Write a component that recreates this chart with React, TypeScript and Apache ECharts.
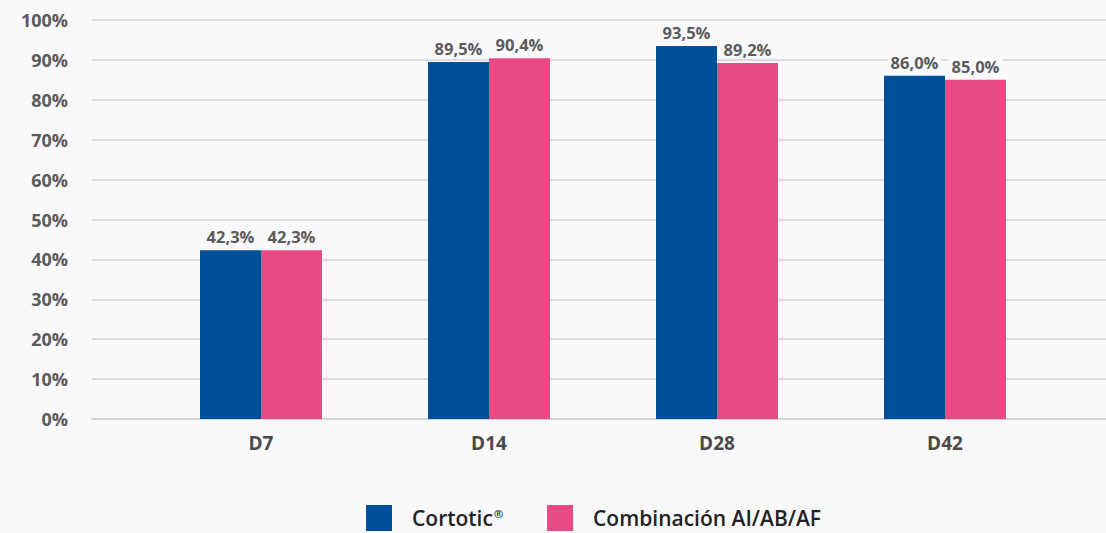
import React, { useEffect, useRef } from "react";
import * as echarts from "echarts";

const categories = ["D7", "D14", "D28", "D42"];
const cortotic = [42.3, 89.5, 93.5, 86.0];
const combinacion = [42.3, 90.4, 89.2, 85.0];
const seriesNames = ["Cortotic®", "Combinación AI/AB/AF"];
const yTicks = [0, 10, 20, 30, 40, 50, 60, 70, 80, 90, 100];

const BG = "#f9f9fb";
const FONT = "'Open Sans', 'DejaVu Sans', sans-serif";

export default function App() {
  const ref = useRef<HTMLDivElement>(null);
  useEffect(() => {
    const chart = echarts.init(ref.current!, null, { renderer: "svg" });
    const labelCfg = {
      show: true,
      position: "top" as const,
      distance: 5,
      formatter: (p: any) => p.value.toFixed(1).replace(".", ",") + "%",
      color: "#5b5b5b",
      fontFamily: FONT,
      fontWeight: 700,
      fontSize: 16.5,
      backgroundColor: BG,
      padding: [0, 3, 0, 3],
    };
    chart.setOption({
      animation: false,
      backgroundColor: BG,
      textStyle: { fontFamily: FONT },
      grid: [
        { left: 92, right: 0, top: 20, bottom: 114 },
        { left: 147, width: 912, top: 20, bottom: 114 },
      ],
      xAxis: [
        {
          gridIndex: 0,
          type: "value",
          min: 0,
          max: 1,
          show: true,
          axisLine: { show: true, onZero: false, lineStyle: { color: "#d4d4d6", width: 2 } },
          axisTick: { show: false },
          axisLabel: { show: false },
          splitLine: { show: false },
        },
        {
          gridIndex: 1,
          type: "category",
          data: categories,
          axisLine: { show: false },
          axisTick: { show: false },
          axisLabel: {
            color: "#4a4a4a",
            fontFamily: FONT,
            fontWeight: 700,
            fontSize: 19,
            margin: 14,
          },
        },
      ],
      yAxis: [
        {
          gridIndex: 0,
          type: "value",
          min: 0,
          max: 100,
          interval: 10,
          axisLine: { show: false },
          axisTick: { show: false },
          axisLabel: {
            formatter: (v: number) => (yTicks.includes(v) ? v + "%" : ""),
            color: "#5b5b5b",
            fontFamily: FONT,
            fontWeight: 700,
            fontSize: 18,
            margin: 24,
          },
          splitLine: { lineStyle: { color: "#dcdcde", width: 2 } },
        },
        {
          gridIndex: 1,
          type: "value",
          min: 0,
          max: 100,
          show: false,
          splitLine: { show: false },
        },
      ],
      legend: {
        left: 366,
        top: 505,
        padding: 0,
        itemWidth: 26,
        itemHeight: 26,
        itemGap: 44,
        icon: "rect",
        data: seriesNames,
        formatter: (name: string) =>
          name.includes("®") ? "{t|" + name.replace("®", "") + "}{s|®}" : "{t|" + name + "}",
        textStyle: {
          padding: [0, 0, 0, 15],
          rich: {
            t: { fontFamily: FONT, fontWeight: 600, fontSize: 21, color: "#222222" },
            s: { fontFamily: FONT, fontWeight: 600, fontSize: 11, color: "#222222", verticalAlign: "top", padding: [0, 0, 9, 1] },
          },
        },
      },
      series: [
        {
          name: seriesNames[0],
          type: "bar",
          xAxisIndex: 1,
          yAxisIndex: 1,
          data: cortotic,
          barWidth: 61,
          barGap: "0%",
          itemStyle: { color: "#004f98" },
          label: labelCfg,
          z: 3,
        },
        {
          name: seriesNames[1],
          type: "bar",
          xAxisIndex: 1,
          yAxisIndex: 1,
          data: combinacion,
          barWidth: 61,
          barGap: "0%",
          itemStyle: { color: "#e84a83" },
          label: labelCfg,
          z: 3,
        },
      ],
    });
    return () => chart.dispose();
  }, []);
  return (
    <div
      ref={ref}
      style={{ position: "fixed", left: 0, top: 0, width: 1106, height: 533, background: BG }}
    />
  );
}
